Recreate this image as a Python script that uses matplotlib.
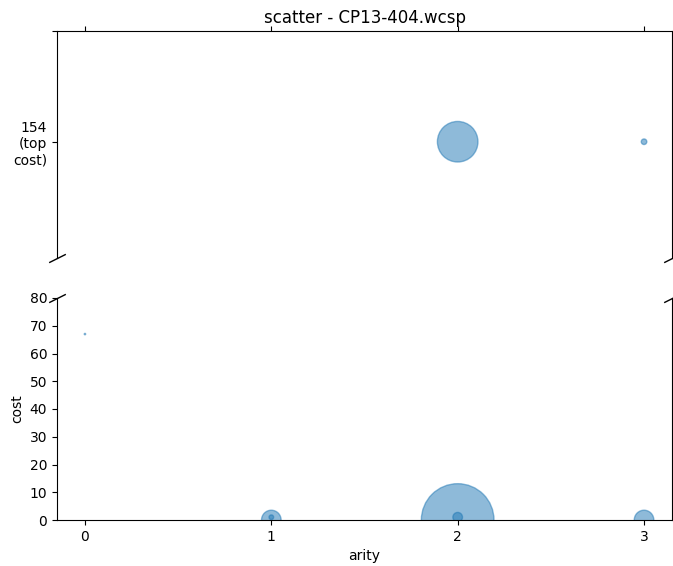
import matplotlib
matplotlib.use("Agg")
import matplotlib.pyplot as plt

# data
top_cost = 154
top_arity = [2, 3]
top_sizes = [853, 16]

arity = [0, 1, 1, 2, 2, 3]
cost = [67, 0, 1, 0, 1, 0]
sizes = [1, 199, 11, 2735, 48, 199]

xticks = [0, 1, 2, 3]
yticks_bottom = [0, 10, 20, 30, 40, 50, 60, 70, 80]

fig = plt.figure(figsize=(6.73, 5.66), dpi=100)
W, H = 673, 566
left = 57 / W
width = (672 - 57) / W
ax1 = fig.add_axes([left, 1 - 258 / H, width, (258 - 31) / H])
ax2 = fig.add_axes([left, 1 - 520 / H, width, (520 - 298) / H], sharex=ax1)

ax1.scatter(top_arity, [top_cost] * len(top_arity), s=top_sizes, alpha=0.5, color="C0")
ax2.scatter(arity, cost, s=sizes, alpha=0.5, color="C0")

ax1.set_ylim(152.95, 155)
ax1.set_yticks([top_cost, 155])
ax1.set_yticklabels([f"{top_cost}\n(top\ncost)", ""])
ax2.set_ylim(0, 80)
ax2.set_yticks(yticks_bottom)
ax2.set_xlim(-0.15, 3.15)
ax2.set_xticks(xticks)

ax1.spines["bottom"].set_visible(False)
ax2.spines["top"].set_visible(False)
ax1.xaxis.tick_top()
ax1.tick_params(labeltop=False)
ax2.xaxis.tick_bottom()

d = .5
kw = dict(marker=[(-1, -d), (1, d)], markersize=12, linestyle="none",
          color="k", mec="k", mew=1, clip_on=False)
ax1.plot([0, 1], [0, 0], transform=ax1.transAxes, **kw)
ax2.plot([0, 1], [1, 1], transform=ax2.transAxes, **kw)

ax1.set_title("scatter - CP13-404.wcsp")
ax2.set_xlabel("arity")
ax2.set_ylabel("cost")

fig.savefig("out.png", dpi=100)
